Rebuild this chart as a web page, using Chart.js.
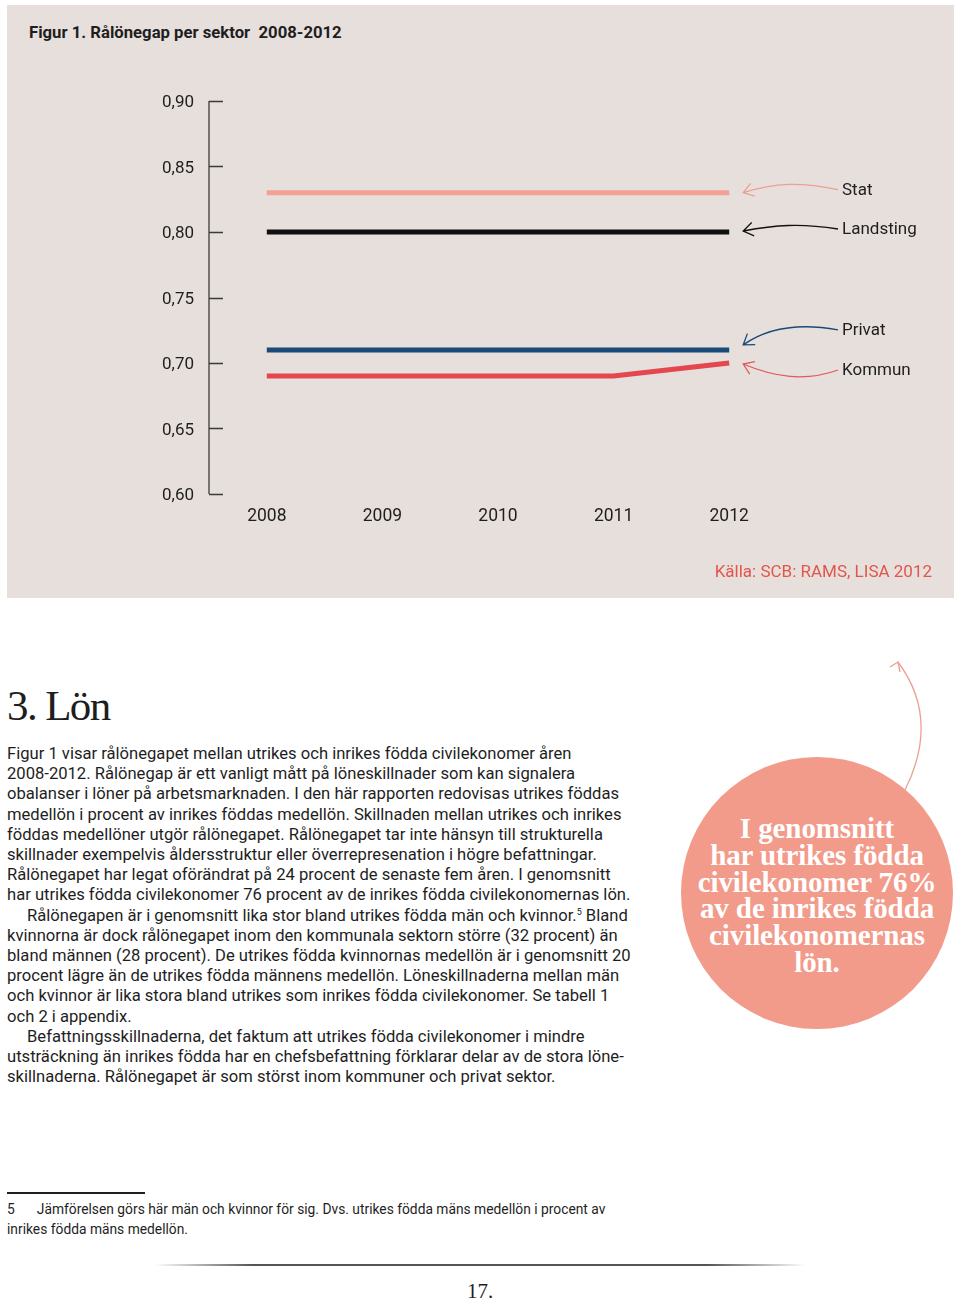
<!DOCTYPE html>
<html>
<head>
<meta charset="utf-8">
<script src="https://cdn.jsdelivr.net/npm/chart.js@4.4.1/dist/chart.umd.min.js"></script>
<style>
  body { margin: 0; width: 960px; height: 1303px; background: #fff; position: relative; font-family: Roboto, "Liberation Sans", sans-serif; color: #1e1e1e; overflow: hidden; }
  #panel { position: absolute; left: 7px; top: 5px; width: 947px; height: 593px; background: #e7dfdb; }
  #chartWrap { position: absolute; left: 0; top: 0; width: 960px; height: 600px; }
  .title { position: absolute; left: 29px; top: 23px; font-size: 16.7px; font-weight: 700; letter-spacing: 0; }
  .source { position: absolute; right: 28px; top: 561px; font-size: 17px; color: #e0564d; }
  h1 { position: absolute; left: 7px; top: 681px; margin: 0; font-family: "Liberation Serif", serif; font-weight: 400; font-size: 43px; line-height: 50px; letter-spacing: -1.6px; }
  .body { position: absolute; left: 7px; font-size: 16.6px; letter-spacing: 0; white-space: nowrap; line-height: 20px; }
  .body sup { font-size: 9px; line-height: 0; vertical-align: 6px; }
  #bubble { position: absolute; left: 681px; top: 757px; width: 272px; height: 272px; border-radius: 50%; background: #f29b8b; }
  .bl { position: absolute; left: 0; width: 272px; text-align: center; color: #fff; font-family: "Liberation Serif", serif; font-weight: 700; font-size: 29px; letter-spacing: -0.1px; line-height: 28px; white-space: nowrap; }
  .fnrule { position: absolute; left: 7px; top: 1192px; width: 138px; height: 2px; background: #1e1e1e; }
  .fn { position: absolute; left: 7px; font-size: 13.8px; letter-spacing: 0; white-space: nowrap; line-height: 18px; }
  .botrule { position: absolute; left: 155px; top: 1264px; width: 650px; height: 2px; background: linear-gradient(to right, rgba(80,80,80,0), #555 15%, #555 85%, rgba(80,80,80,0)); }
  .pnum { position: absolute; left: 0; width: 960px; text-align: center; top: 1279px; font-family: "Liberation Serif", serif; font-size: 21px; }
</style>
</head>
<body>
<div id="panel"></div>
<div class="title">Figur 1. Rålönegap per sektor&nbsp; 2008-2012</div>
<div id="chartWrap"><canvas id="chart" width="960" height="600"></canvas></div>
<div class="source">Källa: SCB: RAMS, LISA 2012</div>

<h1>3. Lön</h1>
<div id="text"></div>

<svg style="position:absolute;left:860px;top:650px" width="80" height="150">
  <path d="M45 140 C 65 100, 70 55, 38 12" fill="none" stroke="#e9a093" stroke-width="1.3"/>
  <path d="M30 17 L38 12 L40 22" fill="none" stroke="#e9a093" stroke-width="1.3"/>
</svg>
<div id="bubble"></div>

<div class="fnrule"></div>
<div class="fn" style="top:1200px">5<span style="display:inline-block;width:22px"></span>Jämförelsen görs här män och kvinnor för sig. Dvs. utrikes födda mäns medellön i procent av</div>
<div class="fn" style="top:1220px">inrikes födda mäns medellön.</div>
<div class="botrule"></div>
<div class="pnum">17.</div>

<script>
    const years = ['2008', '2009', '2010', '2011', '2012'];
    const stat = [0.83, 0.83, 0.83, 0.83, 0.83];
    const landsting = [0.80, 0.80, 0.80, 0.80, 0.80];
    const privat = [0.71, 0.71, 0.71, 0.71, 0.71];
    const kommun = [0.69, 0.69, 0.69, 0.69, 0.70];
    const yMin = 0.60, yMax = 0.90, yStep = 0.05;

    // body text, one entry per printed line
    const bodyLines = [
      'Figur 1 visar rålönegapet mellan utrikes och inrikes födda civilekonomer åren',
      '2008-2012. Rålönegap är ett vanligt mått på löneskillnader som kan signalera',
      'obalanser i löner på arbetsmarknaden. I den här rapporten redovisas utrikes föddas',
      'medellön i procent av inrikes föddas medellön. Skillnaden mellan utrikes och inrikes',
      'föddas medellöner utgör rålönegapet. Rålönegapet tar inte hänsyn till strukturella',
      'skillnader exempelvis åldersstruktur eller överrepresenation i högre befattningar.',
      'Rålönegapet har legat oförändrat på 24 procent de senaste fem åren. I genomsnitt',
      'har utrikes födda civilekonomer 76 procent av de inrikes födda civilekonomernas lön.',
      '>Rålönegapen är i genomsnitt lika stor bland utrikes födda män och kvinnor.<sup>5</sup> Bland',
      'kvinnorna är dock rålönegapet inom den kommunala sektorn större (32 procent) än',
      'bland männen (28 procent). De utrikes födda kvinnornas medellön är i genomsnitt 20',
      'procent lägre än de utrikes födda männens medellön. Löneskillnaderna mellan män',
      'och kvinnor är lika stora bland utrikes som inrikes födda civilekonomer. Se tabell 1',
      'och 2 i appendix.',
      '>Befattningsskillnaderna, det faktum att utrikes födda civilekonomer i mindre',
      'utsträckning än inrikes födda har en chefsbefattning förklarar delar av de stora löne-',
      'skillnaderna. Rålönegapet är som störst inom kommuner och privat sektor.'
    ];
    const bubbleLines = ['I genomsnitt', 'har utrikes födda', 'civilekonomer 76%', 'av de inrikes födda', 'civilekonomernas', 'lön.'];

    const textBox = document.getElementById('text');
    bodyLines.forEach((line, i) => {
      const d = document.createElement('div');
      d.className = 'body';
      d.style.top = (744 + i * 20.2) + 'px';
      if (line.startsWith('>')) {
        d.style.left = '27px';
        line = line.slice(1);
      }
      d.innerHTML = line;
      textBox.appendChild(d);
    });
    const bubble = document.getElementById('bubble');
    bubbleLines.forEach((line, i) => {
      const d = document.createElement('div');
      d.className = 'bl';
      d.style.top = (57 + i * 26.8) + 'px';
      d.textContent = line;
      bubble.appendChild(d);
    });

    // label + curved arrow for each series, offsets from the series end point
    const callouts = [
      { labelDy: -2, tipDy: 0, c1: [-38, -8], c2: [32, -10] },
      { labelDy: -2, tipDy: -1, c1: [-38, -6], c2: [32, -6] },
      { labelDy: -19, tipDy: -5, c1: [-38, -7], c2: [24, -17] },
      { labelDy: 8, tipDy: 1, c1: [-33, 12], c2: [31, 13] }
    ];

    const axisAndCallouts = {
      id: 'axisAndCallouts',
      afterDraw(chart) {
        const ctx = chart.ctx;
        const ys = chart.scales.y;
        const ax = chart.chartArea.left;
        ctx.save();
        ctx.strokeStyle = '#3b3b3b';
        ctx.lineWidth = 1.3;
        ctx.beginPath();
        ctx.moveTo(ax, ys.getPixelForValue(yMax));
        ctx.lineTo(ax, ys.getPixelForValue(yMin));
        ys.ticks.forEach(t => {
          const py = Math.round(ys.getPixelForValue(t.value)) + 0.5;
          ctx.moveTo(ax, py);
          ctx.lineTo(ax + 14, py);
        });
        ctx.stroke();

        chart.data.datasets.forEach((ds, i) => {
          const meta = chart.getDatasetMeta(i);
          const last = meta.data[meta.data.length - 1];
          const c = callouts[i];
          const labelX = 842, labelY = last.y + c.labelDy;
          const sx = labelX - 4, sy = labelY - 1;
          const tx = last.x + 14, ty = last.y + c.tipDy;
          const c1x = sx + c.c1[0], c1y = sy + c.c1[1];
          const c2x = tx + c.c2[0], c2y = ty + c.c2[1];
          ctx.strokeStyle = ds.arrowColor;
          ctx.lineWidth = 1.3;
          ctx.beginPath();
          ctx.moveTo(sx, sy);
          ctx.bezierCurveTo(c1x, c1y, c2x, c2y, tx, ty);
          const ang = Math.atan2(ty - c2y, tx - c2x);
          const len = 12, spread = 0.6;
          ctx.moveTo(tx - len * Math.cos(ang - spread), ty - len * Math.sin(ang - spread));
          ctx.lineTo(tx, ty);
          ctx.lineTo(tx - len * Math.cos(ang + spread), ty - len * Math.sin(ang + spread));
          ctx.stroke();
          ctx.fillStyle = '#1e1e1e';
          ctx.font = '17px Roboto';
          ctx.textAlign = 'left';
          ctx.textBaseline = 'middle';
          ctx.fillText(ds.label, labelX, labelY);
        });
        ctx.restore();
      }
    };

    const series = (label, data, color, arrowColor) => ({
      label, data, borderColor: color, arrowColor,
      borderWidth: 5, pointRadius: 0, tension: 0, borderCapStyle: 'butt', fill: false
    });

    new Chart(document.getElementById('chart'), {
      type: 'line',
      data: {
        labels: years,
        datasets: [
          series('Stat', stat, '#f2a194', '#eda092'),
          series('Landsting', landsting, '#111111', '#111111'),
          series('Privat', privat, '#1b4a78', '#1b4a78'),
          series('Kommun', kommun, '#e4474d', '#e05a5e')
        ]
      },
      options: {
        responsive: false,
        animation: false,
        layout: { padding: { left: 0, right: 173, top: 101, bottom: 76 } },
        plugins: { legend: { display: false }, tooltip: { enabled: false } },
        scales: {
          x: {
            type: 'category',
            offset: true,
            grid: { display: false, drawTicks: false },
            border: { display: false },
            ticks: { color: '#1e1e1e', font: { family: 'Roboto', size: 17.5 }, padding: 12, maxRotation: 0 },
            afterFit: s => { s.height = 30; }
          },
          y: {
            min: yMin, max: yMax,
            grid: { display: false, drawTicks: false },
            border: { display: false },
            ticks: {
              stepSize: yStep, padding: 15, color: '#1e1e1e', labelOffset: 2,
              font: { family: 'Roboto', size: 17 },
              callback: v => v.toFixed(2).replace('.', ',')
            },
            afterFit: s => { s.width = 209; }
          }
        }
      },
      plugins: [axisAndCallouts]
    });
</script>
</body>
</html>
